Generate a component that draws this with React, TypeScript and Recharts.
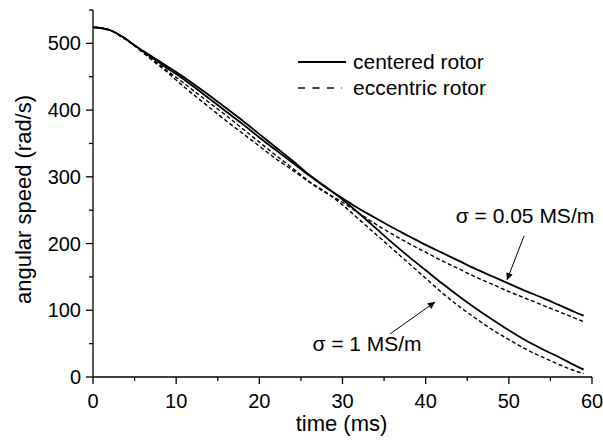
import { Line, LineChart, XAxis, YAxis } from 'recharts';

// time (ms)
const time = [0, 1, 2, 3, 4, 5, 6, 7, 8, 9, 10, 12, 14, 16, 18, 20, 22, 24, 26, 28, 30, 32, 34, 36, 38, 40, 42, 44, 46, 48, 50, 52, 54, 56, 58, 59];

// angular speed (rad/s)
const centeredLow = [524, 523, 520, 514, 506, 497, 488, 479, 471, 462, 454, 436, 417, 398, 379, 359, 340, 321, 302, 284, 268, 252, 238, 224, 211, 198, 186, 174, 162, 151, 140, 129, 119, 108, 97, 92];
const eccentricLow = [524, 523, 520, 513, 505, 496, 486, 476, 466, 456, 445, 424, 404, 384, 365, 346, 327, 310, 292, 276, 262, 245, 229, 214, 200, 187, 174, 162, 150, 139, 128, 118, 108, 98, 88, 83];
const centeredHigh = [524, 523, 520, 514, 506, 497, 489, 481, 473, 465, 457, 440, 422, 403, 384, 364, 344, 324, 303, 285, 266, 245, 223, 201, 180, 160, 140, 121, 103, 86, 70, 55, 42, 30, 17, 11];
const eccentricHigh = [524, 523, 520, 514, 506, 497, 487, 477, 468, 458, 449, 430, 411, 392, 372, 352, 332, 313, 293, 277, 258, 236, 214, 192, 170, 148, 126, 106, 88, 71, 56, 42, 30, 19, 9, 5];

const xTicks = [0, 5, 10, 15, 20, 25, 30, 35, 40, 45, 50, 55, 60];
const yTicks = [0, 50, 100, 150, 200, 250, 300, 350, 400, 450, 500, 550];

const data = time.map((t, i) => ({
  t,
  centeredLow: centeredLow[i],
  eccentricLow: eccentricLow[i],
  centeredHigh: centeredHigh[i],
  eccentricHigh: eccentricHigh[i],
}));

const font = "'Liberation Sans', Arial, Helvetica, sans-serif";
const fs = 20;
const titleFs = 22;
const noteFs = 21;

function XTick({ x, y, payload }: any) {
  const major = payload.value % 10 === 0;
  return (
    <g>
      <line x1={x} x2={x} y1={y} y2={y + (major ? 7 : 4)} stroke="#000" strokeWidth={1.3} />
      {major && (
        <text x={x} y={y + 31} textAnchor="middle" fontFamily={font} fontSize={fs} fill="#000">
          {payload.value}
        </text>
      )}
    </g>
  );
}

function YTick({ x, y, payload }: any) {
  const major = payload.value % 100 === 0;
  return (
    <g>
      <line x1={x} x2={x - (major ? 7 : 4)} y1={y} y2={y} stroke="#000" strokeWidth={1.3} />
      {major && (
        <text x={x - 12} y={y + 7} textAnchor="end" fontFamily={font} fontSize={fs} fill="#000">
          {payload.value}
        </text>
      )}
    </g>
  );
}

export default function App() {
  return (
    <div style={{ position: 'absolute', left: 0, top: 0, width: 603, height: 443, background: '#fff' }}>
      <LineChart width={603} height={443} data={data} margin={{ top: 10, right: 11, left: 0, bottom: 0 }}>
        <XAxis
          dataKey="t"
          type="number"
          domain={[0, 60]}
          ticks={xTicks}
          interval={0}
          tickLine={false}
          tickSize={0}
          tickMargin={0}
          tick={<XTick />}
          axisLine={{ stroke: '#000', strokeWidth: 1.3 }}
          height={66}
          label={{
            content: ({ viewBox }: any) => (
              <text x={viewBox.x + viewBox.width / 2 - 1} y={viewBox.y + 54} textAnchor="middle" fontFamily={font} fontSize={titleFs} fill="#000">
                time (ms)
              </text>
            ),
          }}
        />
        <YAxis
          type="number"
          domain={[0, 550]}
          ticks={yTicks}
          interval={0}
          tickLine={false}
          tickSize={0}
          tickMargin={0}
          tick={<YTick />}
          axisLine={{ stroke: '#000', strokeWidth: 1.3 }}
          width={93}
          label={{
            content: ({ viewBox }: any) => {
              const cx = 23;
              const cy = viewBox.y + viewBox.height / 2 + 6;
              return (
                <text x={cx} y={cy} transform={`rotate(-90 ${cx} ${cy})`} textAnchor="middle" dominantBaseline="central" fontFamily={font} fontSize={titleFs} fill="#000">
                  angular speed (rad/s)
                </text>
              );
            },
          }}
        />
        <Line type="monotone" dataKey="centeredLow" stroke="#000" strokeWidth={1.8} dot={false} isAnimationActive={false} />
        <Line type="monotone" dataKey="eccentricLow" stroke="#000" strokeWidth={1.4} strokeDasharray="4 2.5" dot={false} isAnimationActive={false} />
        <Line type="monotone" dataKey="centeredHigh" stroke="#000" strokeWidth={1.8} dot={false} isAnimationActive={false} />
        <Line type="monotone" dataKey="eccentricHigh" stroke="#000" strokeWidth={1.4} strokeDasharray="4 2.5" dot={false} isAnimationActive={false} />
      </LineChart>
      <svg width={603} height={443} style={{ position: 'absolute', left: 0, top: 0, pointerEvents: 'none' }}>
        <defs>
          <marker id="head" viewBox="0 0 10 10" refX="10" refY="5" markerWidth="9" markerHeight="7" markerUnits="userSpaceOnUse" orient="auto">
            <path d="M0,0 L10,5 L0,10 z" fill="#000" />
          </marker>
        </defs>
        {/* legend */}
        <line x1={298} x2={346} y1={62} y2={62} stroke="#000" strokeWidth={1.8} />
        <line x1={298} x2={342} y1={88} y2={88} stroke="#000" strokeWidth={1.4} strokeDasharray="7 7.5" />
        <text x={353} y={69} fontFamily={font} fontSize={noteFs} fill="#000">centered rotor</text>
        <text x={353} y={95} fontFamily={font} fontSize={noteFs} fill="#000">eccentric rotor</text>
        {/* annotations */}
        <text x={525} y={223} textAnchor="middle" fontFamily={font} fontSize={noteFs} fill="#000">σ = 0.05 MS/m</text>
        <line x1={524} y1={236} x2={507} y2={280} stroke="#000" strokeWidth={1} markerEnd="url(#head)" />
        <text x={367} y={351} textAnchor="middle" fontFamily={font} fontSize={noteFs} fill="#000">σ = 1 MS/m</text>
        <line x1={390} y1={334} x2={435} y2={302} stroke="#000" strokeWidth={1} markerEnd="url(#head)" />
      </svg>
    </div>
  );
}
